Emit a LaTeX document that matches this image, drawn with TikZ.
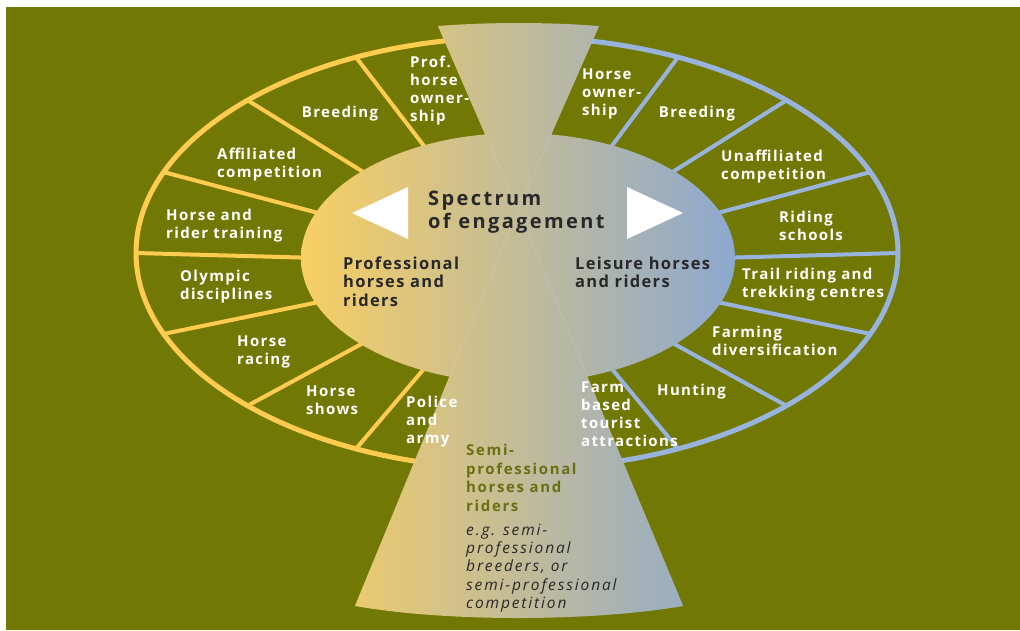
\documentclass[tikz,border=0pt]{standalone}
\usepackage{fontspec}
\setmainfont{Open Sans}
\newfontfamily\labfont{Open Sans}[LetterSpace=9]
\newfontfamily\midfont{Open Sans}[LetterSpace=8]
\newfontfamily\specfont{Open Sans}[LetterSpace=12]
\newfontfamily\semifont{Open Sans}[LetterSpace=11]
\newfontfamily\egfont{Open Sans}[LetterSpace=12]
\usetikzlibrary{calc}
\definecolor{olivebg}{RGB}{114,120,4}
\definecolor{ringyellow}{RGB}{255,204,80}
\definecolor{ringblue}{RGB}{152,180,220}
\definecolor{shadeyellow}{RGB}{248,207,98}
\definecolor{shadebeige}{RGB}{198,186,150}
\definecolor{shadeblue}{RGB}{140,168,208}
\definecolor{darktext}{RGB}{40,40,40}
\definecolor{semitext}{RGB}{104,112,20}

\begin{document}
\begin{tikzpicture}[x=1pt,y=-1pt,
		lab/.style={text=white,font=\labfont\bfseries\fontsize{15}{18}\selectfont,align=left,anchor=west,inner sep=0pt},
		mid/.style={text=darktext,font=\midfont\bfseries\fontsize{16.5}{18.5}\selectfont,align=left,anchor=west,inner sep=0pt},
		spec/.style={text=darktext,font=\specfont\bfseries\fontsize{20}{23}\selectfont,align=left,anchor=west,inner sep=0pt},
		semi/.style={text=semitext,font=\semifont\bfseries\fontsize{15}{18.5}\selectfont,align=left,anchor=west,inner sep=0pt},
		example/.style={text=darktext,font=\egfont\itshape\fontsize{15.5}{18.3}\selectfont,align=left,anchor=west,inner sep=0pt},
		spoke/.style={line width=4pt},
		ring/.style={line width=5pt},
		gradfill/.style={left color=shadeyellow,middle color=shadebeige,right color=shadeblue}]
	\useasboundingbox (0,0) rectangle (1020,630);
	\fill[white] (0,0) rectangle (1020,630);
	\fill[olivebg] (6,7) rectangle (1020,630);
	\coordinate (outer) at (517,253);
	\coordinate (inner) at (518,258);
	\coordinate (apex) at (518,210);
	% spokes
	\foreach \a in {115,135,158,180,202,225,245}
		\draw[spoke,ringyellow] ($(inner)+(\a:200 and 110)$) -- ($(outer)+(\a:381 and 216)$);
	\foreach \a in {65,45,22,0,-22,-45,-65}
		\draw[spoke,ringblue] ($(inner)+(\a:200 and 110)$) -- ($(outer)+(\a:381 and 216)$);
	% outer ring, two halves
	\draw[ring,ringyellow] ($(outer)+(90:381 and 216)$) arc [start angle=90,end angle=270,x radius=381,y radius=216];
	\draw[ring,ringblue] ($(outer)+(-90:381 and 216)$) arc [start angle=-90,end angle=90,x radius=381,y radius=216];
	% centre ellipse and hourglass
	\begin{scope}
		\clip (inner) ellipse [x radius=217,y radius=125];
		\shade[gradfill] (300,20) rectangle (737,625);
	\end{scope}
	\begin{scope}
		\clip (438,26) .. controls (490,22) and (547,22) .. (599,26) -- (apex) -- cycle;
		\shade[gradfill] (300,20) rectangle (737,625);
	\end{scope}
	\begin{scope}
		\clip (apex) -- (683,606) .. controls (590,622) and (446,622) .. (355,606) -- cycle;
		\shade[gradfill] (300,20) rectangle (737,625);
	\end{scope}
	\draw[white,opacity=0.12,line width=0.8pt] (438,26) -- (apex) -- (683,606);
	\draw[white,opacity=0.12,line width=0.8pt] (599,26) -- (apex) -- (355,606);
	% arrows
	\fill[white] (352,213) -- (408,187) -- (408,239) -- cycle;
	\fill[white] (683,213) -- (627,187) -- (627,239) -- cycle;
	% centre texts
	\node[spec] (spectrum) at (428,212) {Spectrum\\of engagement};
	\node[mid] (prof) at (343,281.5) {Professional\\horses and\\riders};
	\node[mid] (leisure) at (575,272.5) {Leisure horses\\and riders};
	\node[semi] (semipro) at (466,478) {Semi-\\professional\\horses and\\riders};
	\node[example] (eg) at (466,568) {e.g. semi-\\professional\\breeders, or\\semi-professional\\competition};
	% professional side
	\node[lab] (profown) at (410,91) {Prof.\\horse\\owner-\\ship};
	\node[lab,anchor=center] (breedl) at (340,114) {Breeding};
	\node[lab] (affil) at (217,164.5) {Affiliated\\competition};
	\node[lab] (training) at (166,226) {Horse and\\rider training};
	\node[lab] (olympic) at (180,287) {Olympic\\disciplines};
	\node[lab] (racing) at (237,351.5) {Horse\\racing};
	\node[lab] (shows) at (306,400) {Horse\\shows};
	\node[lab] (police) at (406,421.5) {Police\\and\\army};
	% leisure side
	\node[lab] (ownership) at (582,93.5) {Horse\\owner-\\ship};
	\node[lab,anchor=center] (breedr) at (697,114) {Breeding};
	\node[lab] (unaffil) at (721,167) {Unaffiliated\\competition};
	\node[lab] (schools) at (779,226) {Riding\\schools};
	\node[lab] (trail) at (742,285) {Trail riding and\\trekking centres};
	\node[lab] (farming) at (712,341) {Farming\\diversification};
	\node[lab] (hunting) at (657,392) {Hunting};
	\node[lab] (tourist) at (581,414) {Farm\\based\\tourist\\attractions};
\end{tikzpicture}
\end{document}
